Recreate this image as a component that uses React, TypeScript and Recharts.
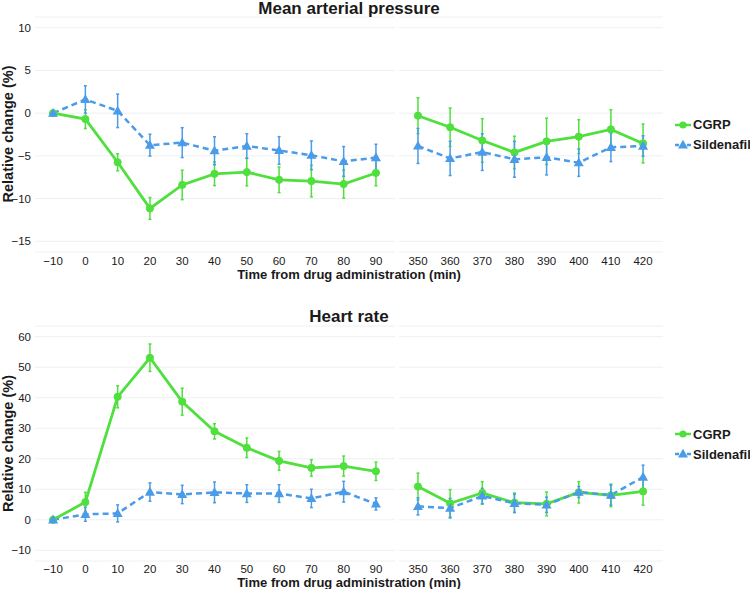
import React from "react";
import { CartesianGrid, ErrorBar, Legend, Line, LineChart, XAxis, YAxis } from "recharts";

// sampling times (min); the axis is broken between 90 and 350
const times = [-10, 0, 10, 20, 30, 40, 50, 60, 70, 80, 90, 350, 360, 370, 380, 390, 400, 410, 420];
const earlyTicks = [-10, 0, 10, 20, 30, 40, 50, 60, 70, 80, 90];
const lateTicks = [350, 360, 370, 380, 390, 400, 410, 420];

// mean arterial pressure, relative change (%) and SEM
const mapCgrp = [0, -0.7, -5.75, -11.15, -8.4, -7.1, -6.9, -7.8, -7.95, -8.3, -7.0, -0.3, -1.65, -3.2, -4.6, -3.3, -2.75, -1.9, -3.55];
const mapCgrpSem = [0, 1.1, 1.0, 1.28, 1.72, 1.38, 1.6, 1.5, 1.85, 1.65, 1.5, 2.1, 2.25, 2.55, 1.9, 2.72, 1.98, 2.3, 2.28];
const mapSild = [0, 1.6, 0.27, -3.75, -3.45, -4.4, -3.85, -4.37, -4.93, -5.65, -5.2, -3.84, -5.3, -4.56, -5.4, -5.17, -5.8, -4.0, -3.85];
const mapSildSem = [0, 1.6, 1.96, 1.28, 1.75, 1.64, 1.43, 1.62, 1.68, 1.74, 1.56, 2.05, 2.0, 2.14, 2.1, 2.06, 1.6, 1.67, 1.2];
const mapTicks = [-15, -10, -5, 0, 5, 10];

// heart rate, relative change (%) and SEM
const hrCgrp = [0, 5.8, 40.3, 53.1, 38.7, 29.0, 23.6, 19.3, 17.0, 17.6, 15.9, 10.9, 5.4, 8.8, 5.6, 5.2, 9.0, 8.0, 9.3];
const hrCgrpSem = [0, 3.2, 3.6, 4.5, 4.4, 2.5, 3.2, 3.1, 2.7, 3.3, 3.0, 4.4, 4.5, 3.7, 3.2, 3.9, 3.5, 3.7, 4.5];
const hrSild = [0, 1.8, 2.1, 9.1, 8.3, 9.0, 8.6, 8.6, 7.0, 9.2, 5.2, 4.4, 3.8, 7.8, 5.4, 4.9, 9.1, 8.1, 14.0];
const hrSildSem = [0, 2.3, 2.8, 3.0, 3.0, 3.4, 2.9, 2.9, 3.0, 3.4, 2.0, 2.8, 3.2, 2.5, 3.0, 2.5, 1.8, 3.3, 3.9];
const hrTicks = [-10, 0, 10, 20, 30, 40, 50, 60];

const GREEN = "#4fe03d";
const BLUE = "#4a9be8";
const GRID = "#edf0f2";
const INK = "#1a1a1a";
const FONT = '"Liberation Sans", Arial, sans-serif';

const fmt = (v: number) => (v < 0 ? `\u2212${Math.abs(v)}` : `${v}`);
const tickStyle = { fontSize: 11.5, fill: INK };

type Row = { t: number; cgrp: number; cgrpSem: number; sild: number; sildSem: number };

function buildRows(cgrp: number[], cgrpSem: number[], sild: number[], sildSem: number[]): Row[] {
  return times.map((t, i) => ({ t, cgrp: cgrp[i], cgrpSem: cgrpSem[i], sild: sild[i], sildSem: sildSem[i] }));
}

const triangleDot = (props: any) => {
  const { cx, cy, index } = props;
  if (cx == null || cy == null) return <g key={`tri-${index}`} />;
  return (
    <path
      key={`tri-${index}`}
      d={`M${cx},${cy - 5.2}L${cx + 5},${cy + 3.6}L${cx - 5},${cy + 3.6}Z`}
      fill={BLUE}
    />
  );
};

function LegendBox(props: any) {
  const items = props.payload || [];
  return (
    <div style={{ fontFamily: FONT }}>
      {items.map((it: any) => (
        <div key={it.value} style={{ display: "flex", alignItems: "center", height: 20 }}>
          <svg width={17} height={12}>
            <line
              x1={0}
              x2={16}
              y1={6}
              y2={6}
              stroke={it.color}
              strokeWidth={2.5}
              strokeDasharray={it.type === "triangle" ? "4 2" : undefined}
            />
            {it.type === "triangle" ? (
              <path d="M8,0.8L13,9.6L3,9.6Z" fill={it.color} />
            ) : (
              <circle cx={8} cy={6} r={3.6} fill={it.color} />
            )}
          </svg>
          <span style={{ fontSize: 13, fontWeight: "bold", color: INK, marginLeft: 1, whiteSpace: "nowrap" }}>
            {it.value}
          </span>
        </div>
      ))}
    </div>
  );
}

function Series() {
  return [
    <Line
      key="cgrp"
      type="linear"
      dataKey="cgrp"
      name="CGRP"
      stroke={GREEN}
      strokeWidth={2.8}
      dot={{ r: 3.6, fill: GREEN, stroke: GREEN, strokeWidth: 1 }}
      activeDot={false}
      legendType="circle"
      isAnimationActive={false}
    >
      <ErrorBar dataKey="cgrpSem" width={1.5} strokeWidth={1.5} stroke={GREEN} direction="y" />
    </Line>,
    <Line
      key="sild"
      type="linear"
      dataKey="sild"
      name="Sildenafil"
      stroke={BLUE}
      strokeWidth={2.5}
      strokeDasharray="6 4"
      dot={triangleDot}
      activeDot={false}
      legendType="triangle"
      isAnimationActive={false}
    >
      <ErrorBar dataKey="sildSem" width={1.5} strokeWidth={1.5} stroke={BLUE} direction="y" />
    </Line>,
  ];
}

type PanelProps = {
  top: number;
  height: number;
  marginTop: number;
  rows: Row[];
  yDomain: [number, number];
  yTicks: number[];
  legendTop: number;
  xTickMargin: number;
};

function Panel({ top, height, marginTop, rows, yDomain, yTicks, legendTop, xTickMargin }: PanelProps) {
  const early = rows.filter((r) => r.t <= 90);
  const late = rows.filter((r) => r.t >= 350);
  return (
    <div style={{ position: "absolute", left: 0, top, width: 750, height }}>
      <div style={{ position: "absolute", left: 0, top: 0 }}>
        <LineChart width={395} height={height} data={early} margin={{ top: marginTop, right: 0, bottom: 0, left: 0 }}>
          <CartesianGrid horizontal vertical={false} stroke={GRID} strokeWidth={1} />
          <XAxis
            dataKey="t"
            type="number"
            domain={[-15.6, 95.9]}
            ticks={earlyTicks}
            interval={0}
            tickFormatter={fmt}
            tick={tickStyle}
            axisLine={false}
            tickLine={false}
            tickSize={3}
            tickMargin={xTickMargin}
            height={30}
          />
          <YAxis
            type="number"
            domain={yDomain}
            ticks={yTicks}
            interval={0}
            tickFormatter={fmt}
            tick={tickStyle}
            axisLine={false}
            tickLine={false}
            tickSize={2}
            tickMargin={2}
            width={35}
            allowDataOverflow
          />
          {Series()}
        </LineChart>
      </div>
      <div style={{ position: "absolute", left: 395, top: 0 }}>
        <LineChart width={355} height={height} data={late} margin={{ top: marginTop, right: 87, bottom: 0, left: 4 }}>
          <CartesianGrid horizontal vertical={false} stroke={GRID} strokeWidth={1} />
          <XAxis
            dataKey="t"
            type="number"
            domain={[344.1, 426.2]}
            ticks={lateTicks}
            interval={0}
            tick={tickStyle}
            axisLine={false}
            tickLine={false}
            tickSize={3}
            tickMargin={xTickMargin}
            height={30}
          />
          <YAxis type="number" domain={yDomain} ticks={yTicks} interval={0} hide allowDataOverflow />
          {Series()}
          <Legend
            layout="vertical"
            align="center"
            verticalAlign="middle"
            content={<LegendBox />}
            wrapperStyle={{ left: 280, top: legendTop, width: 80 }}
          />
        </LineChart>
      </div>
    </div>
  );
}

export default function App() {
  const mapRows = buildRows(mapCgrp, mapCgrpSem, mapSild, mapSildSem);
  const hrRows = buildRows(hrCgrp, hrCgrpSem, hrSild, hrSildSem);
  return (
    <div
      style={{
        position: "absolute",
        left: 0,
        top: 0,
        width: 750,
        height: 589,
        background: "#ffffff",
        fontFamily: FONT,
        overflow: "hidden",
      }}
    >
      <Panel
        top={0}
        height={282}
        marginTop={17}
        rows={mapRows}
        yDomain={[-16.25, 11.25]}
        yTicks={mapTicks}
        legendTop={114.5}
        xTickMargin={1.5}
      />
      <Panel
        top={300}
        height={291}
        marginTop={26}
        rows={hrRows}
        yDomain={[-13.5, 63.5]}
        yTicks={hrTicks}
        legendTop={124}
        xTickMargin={0.5}
      />
      <svg
        width={750}
        height={589}
        style={{ position: "absolute", left: 0, top: 0, pointerEvents: "none", fontFamily: FONT }}
      >
        <text x={349} y={13.6} textAnchor="middle" fontSize={17} fontWeight="bold" fill={INK}>
          Mean arterial pressure
        </text>
        <text x={349} y={322} textAnchor="middle" fontSize={17} fontWeight="bold" fill={INK}>
          Heart rate
        </text>
        <text x={349} y={278.5} textAnchor="middle" fontSize={13} fontWeight="bold" fill={INK}>
          Time from drug administration (min)
        </text>
        <text x={349} y={587} textAnchor="middle" fontSize={13} fontWeight="bold" fill={INK}>
          Time from drug administration (min)
        </text>
        <text
          x={13}
          y={134}
          textAnchor="middle"
          fontSize={14.5}
          fontWeight="bold"
          fill={INK}
          transform="rotate(-90 13 134)"
        >
          Relative change (%)
        </text>
        <text
          x={13}
          y={443.5}
          textAnchor="middle"
          fontSize={14.5}
          fontWeight="bold"
          fill={INK}
          transform="rotate(-90 13 443.5)"
        >
          Relative change (%)
        </text>
      </svg>
    </div>
  );
}
